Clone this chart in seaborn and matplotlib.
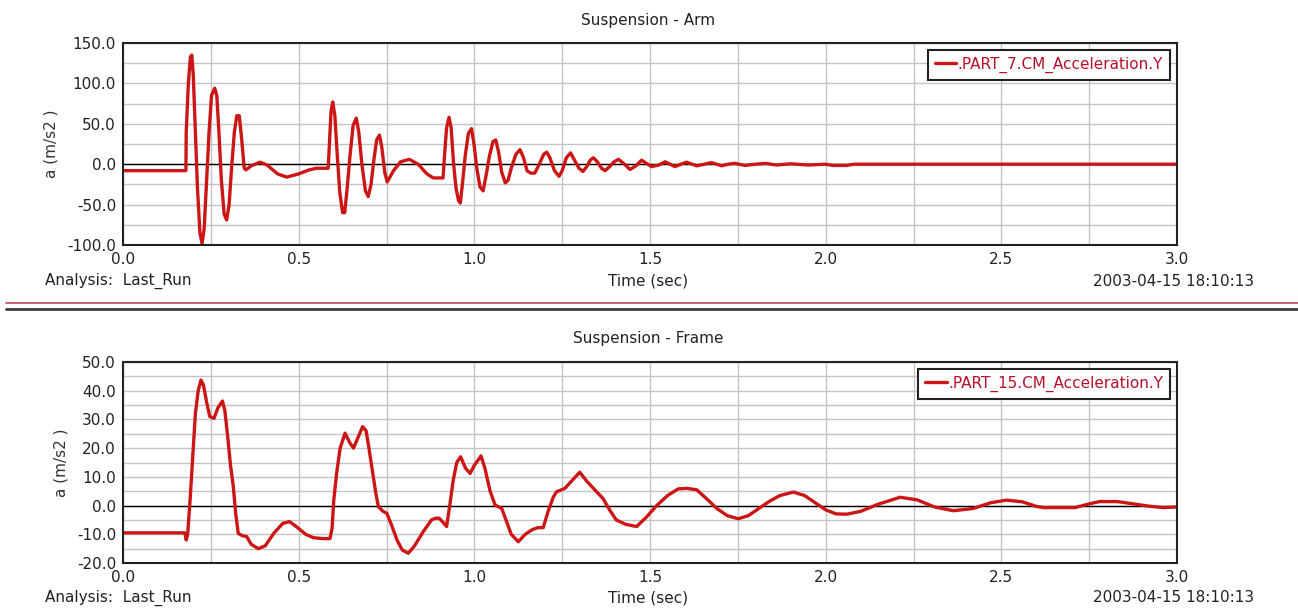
import numpy as np
import pandas as pd
import matplotlib
matplotlib.use("Agg")
import matplotlib.pyplot as plt
from matplotlib.ticker import MultipleLocator, FormatStrFormatter
from matplotlib.lines import Line2D
import seaborn as sns

# ---------------- data ----------------
arm_time = [0.000, 0.179, 0.180, 0.186, 0.192, 0.196, 0.200, 0.206, 0.212, 0.219, 0.225, 0.231,
            0.238, 0.245, 0.252, 0.261, 0.267, 0.273, 0.280, 0.288, 0.295, 0.302, 0.309, 0.317,
            0.324, 0.331, 0.338, 0.345, 0.350, 0.365, 0.390, 0.410, 0.440, 0.466, 0.500, 0.530,
            0.551, 0.584, 0.587, 0.592, 0.597, 0.603, 0.610, 0.617, 0.625, 0.631, 0.638, 0.646,
            0.655, 0.664, 0.671, 0.680, 0.690, 0.698, 0.706, 0.714, 0.722, 0.730, 0.737, 0.745,
            0.752, 0.770, 0.790, 0.815, 0.840, 0.865, 0.883, 0.911, 0.915, 0.921, 0.928, 0.934,
            0.941, 0.948, 0.955, 0.960, 0.966, 0.974, 0.983, 0.992, 0.999, 1.007, 1.016, 1.025,
            1.033, 1.043, 1.053, 1.061, 1.069, 1.078, 1.088, 1.096, 1.105, 1.118, 1.130, 1.140,
            1.150, 1.160, 1.172, 1.185, 1.197, 1.206, 1.215, 1.228, 1.241, 1.250, 1.262, 1.274,
            1.285, 1.298, 1.309, 1.320, 1.330, 1.339, 1.350, 1.362, 1.372, 1.385, 1.398, 1.410,
            1.425, 1.443, 1.460, 1.476, 1.490, 1.505, 1.525, 1.543, 1.557, 1.571, 1.588, 1.604,
            1.620, 1.633, 1.655, 1.675, 1.690, 1.704, 1.722, 1.742, 1.770, 1.800, 1.830, 1.860,
            1.900, 1.950, 2.000, 2.020, 2.060, 2.080, 3.000]
arm_accel = [-8, -8, 40, 100, 133, 135, 110, 40, -30, -85, -98, -80,
             -20, 40, 85, 94, 85, 40, -20, -62, -69, -50, -5, 40,
             60, 60, 30, -5, -7, -2, 2.5, -1, -12, -16, -12, -7,
             -5, -5, 20, 65, 77, 60, 10, -35, -60, -60, -30, 10,
             48, 57, 40, 0, -33, -40, -25, 5, 30, 36, 20, -10,
             -22, -8, 3, 6, 0, -12, -17, -17, 10, 45, 58, 45,
             0, -30, -45, -48, -25, 10, 38, 44, 25, -5, -28, -33,
             -15, 10, 28, 30, 15, -10, -23, -20, -5, 12, 18, 8,
             -8, -11, -11, 0, 12, 15, 8, -8, -15, -8, 8, 14,
             5, -5, -9, -3, 5, 8, 3, -5, -8, -3, 3, 6,
             1, -6.5, -2, 5, 1, -3, -1, 3, 0, -3, 0, 2.5,
             0, -2, 0, 2, 0, -2, 0, 1, -1.5, 0, 1, -1,
             0.5, -1, 0, -1.5, -1.5, 0, 0]

frame_time = [0.000, 0.176, 0.180, 0.184, 0.191, 0.196, 0.200, 0.206, 0.214, 0.222, 0.229, 0.238,
              0.247, 0.259, 0.270, 0.283, 0.290, 0.298, 0.306, 0.314, 0.321, 0.328, 0.340, 0.352,
              0.365, 0.385, 0.405, 0.430, 0.455, 0.474, 0.495, 0.520, 0.542, 0.570, 0.589, 0.595,
              0.600, 0.608, 0.618, 0.632, 0.645, 0.656, 0.670, 0.682, 0.692, 0.700, 0.710, 0.720,
              0.727, 0.740, 0.751, 0.765, 0.780, 0.795, 0.812, 0.830, 0.855, 0.878, 0.890, 0.900,
              0.912, 0.921, 0.930, 0.940, 0.950, 0.961, 0.975, 0.988, 1.000, 1.019, 1.030, 1.045,
              1.059, 1.078, 1.090, 1.105, 1.125, 1.145, 1.163, 1.180, 1.196, 1.210, 1.225, 1.234,
              1.258, 1.280, 1.300, 1.320, 1.348, 1.366, 1.385, 1.404, 1.430, 1.462, 1.490, 1.519,
              1.550, 1.580, 1.604, 1.633, 1.660, 1.690, 1.720, 1.751, 1.780, 1.810, 1.840, 1.870,
              1.908, 1.940, 1.970, 2.000, 2.030, 2.060, 2.100, 2.150, 2.212, 2.260, 2.310, 2.364,
              2.420, 2.470, 2.515, 2.560, 2.600, 2.620, 2.710, 2.750, 2.780, 2.830, 2.880, 2.920,
              2.960, 3.000]
frame_accel = [-9.5, -9.5, -12, -10, 2, 12, 20.5, 32, 40, 43.7, 42, 36,
               31, 30.4, 34, 36.4, 33, 24, 14, 6.6, -3, -9.7, -10.5, -10.8,
               -13.5, -15, -14, -9.5, -6.2, -5.6, -7.5, -10, -11.2, -11.5, -11.5, -8,
               2, 11.2, 20, 25.2, 22, 20, 24, 27.5, 26, 20, 12, 4,
               -0.4, -2, -2.7, -7, -12, -15.5, -16.6, -14, -9, -5, -4.4, -4.4,
               -6, -7.3, 0, 8.9, 15, 17, 13, 11.2, 14, 17.3, 13, 5,
               0.2, -1, -5, -10, -12.6, -10, -8.5, -7.7, -7.7, -2, 3, 4.8,
               6, 9, 11.6, 8.5, 4.8, 2.5, -1.5, -5, -6.5, -7.3, -4, 0,
               3.5, 5.8, 6, 5.5, 2.5, -1, -3.5, -4.6, -3.5, -1, 1.5, 3.5,
               4.7, 3.5, 1, -1.5, -2.9, -3, -2, 0.5, 2.9, 2, -0.5, -1.8,
               -1, 1, 1.9, 1.3, -0.3, -0.7, -0.7, 0.6, 1.4, 1.4, 0.5, -0.2,
               -0.7, -0.5]

titles = ["Suspension - Arm", "Suspension - Frame"]
legend_labels = [".PART_7.CM_Acceleration.Y", ".PART_15.CM_Acceleration.Y"]
y_label = "a (m/s2 )"
x_label = "Time (sec)"
analysis_text = "Analysis:  Last_Run"
stamp_text = "2003-04-15 18:10:13"
y_limits = [(-100, 150), (-20, 50)]
y_major = [50, 10]
y_minor = [25, 5]

# ---------------- style ----------------
sns.set_style("white")
plt.rcParams['font.family'] = ['DejaVu Sans']
FS = 11
LINE_COLOR = "#cc1616"
TEXT_RED = "#b8102a"

W, H = 1298, 609
fig = plt.figure(figsize=(W / 100, H / 100), dpi=100)
fig.patch.set_facecolor("white")

def fx(px):
    return px / W

def fy(py):
    return 1 - py / H

axes_px = [(43, 245), (362, 563)]  # top, bottom pixel rows
left_px, right_px = 123, 1177
datasets = [(arm_time, arm_accel), (frame_time, frame_accel)]
title_y = [21, 339]
footer_y = [281, 598]

for i, ((top, bot), (t, a)) in enumerate(zip(axes_px, datasets)):
    ax = fig.add_axes([fx(left_px), fy(bot), fx(right_px - left_px), (bot - top) / H])
    df = pd.DataFrame({"time": t, "accel": a})
    sns.lineplot(data=df, x="time", y="accel", ax=ax, color=LINE_COLOR, linewidth=2.4,
                 label=legend_labels[i], sort=False, estimator=None)
    ax.axhline(0, color="black", linewidth=1.0, zorder=1.5)

    ax.set_xlim(0, 3.0)
    ax.set_ylim(*y_limits[i])
    ax.xaxis.set_major_locator(MultipleLocator(0.5))
    ax.xaxis.set_minor_locator(MultipleLocator(0.25))
    ax.yaxis.set_major_locator(MultipleLocator(y_major[i]))
    ax.yaxis.set_minor_locator(MultipleLocator(y_minor[i]))
    ax.xaxis.set_major_formatter(FormatStrFormatter("%.1f"))
    ax.yaxis.set_major_formatter(FormatStrFormatter("%.1f"))
    ax.grid(True, which="both", color="#c4c4c4", linewidth=1.0)
    ax.set_axisbelow(True)
    ax.tick_params(axis="both", which="both", direction="out", color="black",
                   labelsize=FS, labelcolor="#222222")
    ax.tick_params(axis="both", which="major", length=4, width=1, pad=1)
    ax.tick_params(axis="both", which="minor", length=4, width=1)
    for s in ax.spines.values():
        s.set_color("#222222")
        s.set_linewidth(1.5)
    ax.set_xlabel("")
    ax.set_ylabel(y_label, fontsize=FS, color="#333333", labelpad=6)

    leg = ax.legend(loc="upper right", fontsize=FS, frameon=True, fancybox=False,
                    framealpha=1, edgecolor="#222222", handlelength=1.4, handletextpad=0.1,
                    borderaxespad=0.45, borderpad=0.45)
    leg.get_frame().set_linewidth(1.5)
    for txt in leg.get_texts():
        txt.set_color(TEXT_RED)

    fig.text(fx(648), fy(title_y[i]), titles[i], ha="center", va="center",
             fontsize=FS, color="#222222")
    fig.text(fx(45), fy(footer_y[i]), analysis_text, ha="left", va="center",
             fontsize=FS, color="#222222")
    fig.text(fx(648), fy(footer_y[i]), x_label, ha="center", va="center",
             fontsize=FS, color="#222222")
    fig.text(fx(1254), fy(footer_y[i]), stamp_text, ha="right", va="center",
             fontsize=FS, color="#222222")

# separator between the two panels
fig.add_artist(Line2D([fx(6), 1], [fy(302.5), fy(302.5)], color="#c04a5a", linewidth=1.2,
                      transform=fig.transFigure))
fig.add_artist(Line2D([fx(6), 1], [fy(309), fy(309)], color="#3c3c3c", linewidth=2.0,
                      transform=fig.transFigure))

fig.savefig("out.png", dpi=100, facecolor="white")
